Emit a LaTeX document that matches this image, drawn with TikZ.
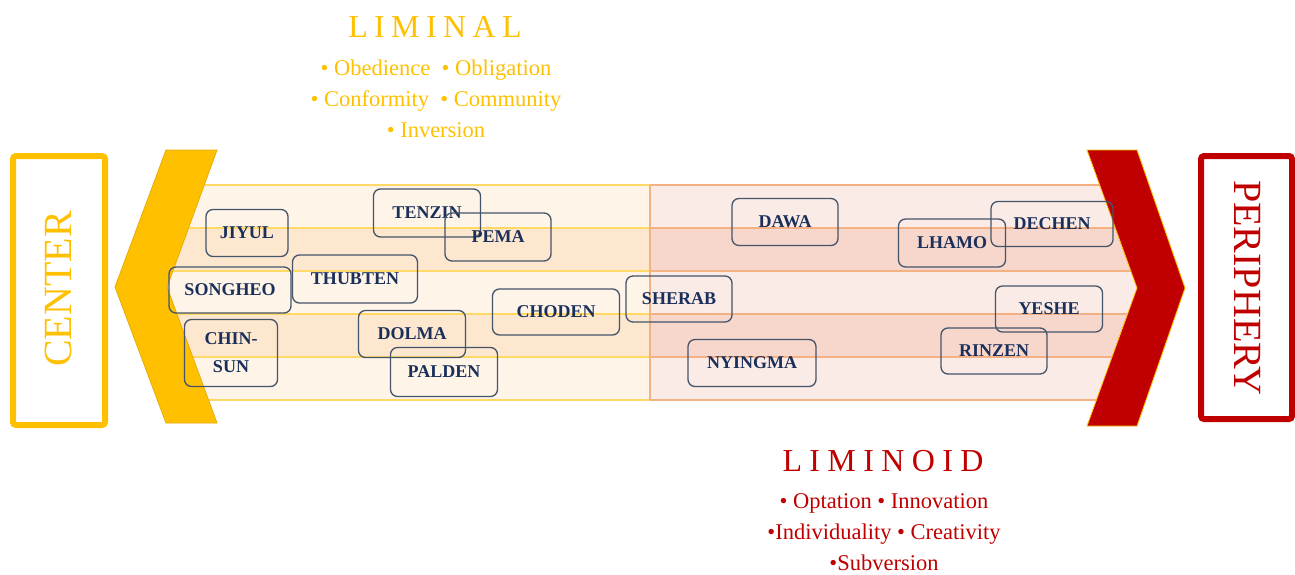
\documentclass[tikz,border=0pt]{standalone}
\usepackage{fontspec}
\setmainfont{Liberation Serif}
\newfontfamily\spacedfont[LetterSpace=20]{Liberation Serif}
\newfontfamily\widefont[LetterSpace=23]{Liberation Serif}
\definecolor{gold}{HTML}{FFC000}
\definecolor{goldedge}{HTML}{E6AC00}
\definecolor{crimson}{HTML}{C00000}
\definecolor{lightA}{HTML}{FEF4E8}
\definecolor{darkA}{HTML}{FDE7CF}
\definecolor{lineA}{HTML}{FFD966}
\definecolor{lightB}{HTML}{FBEBE7}
\definecolor{darkB}{HTML}{F7D6CC}
\definecolor{lineB}{HTML}{F4B183}
\definecolor{boxedge}{HTML}{44546A}
\definecolor{nametext}{HTML}{1A2F5A}
\begin{document}
\begin{tikzpicture}[x=1pt,y=-1pt,
  namebox/.style={draw=boxedge, line width=1.3pt, rounded corners=7pt,
    text=nametext, font=\bfseries\fontsize{18}{28}\selectfont,
    inner sep=0pt, align=center},
  sz/.style 2 args={minimum width=#1pt, minimum height=#2pt},
  heading/.style={font=\spacedfont\fontsize{32}{32}\selectfont},
  traits/.style={font=\fontsize{22.5}{31}\selectfont, align=center},
  pole/.style={font=\fontsize{40}{40}\selectfont, inner sep=0pt},
  stripeA/.style={draw=lineA, line width=1.2pt},
  stripeB/.style={draw=lineB, line width=1.2pt}]
\useasboundingbox (0,0) rectangle (1295,574);

% striped band: liminal half (left) and liminoid half (right)
\foreach \top/\shade in {185/lightA,228/darkA,271/lightA,314/darkA,357/lightA}
  \fill[\shade] (162,\top) rectangle (650,\top+43);
\foreach \top/\shade in {185/lightB,228/darkB,271/lightB,314/darkB,357/lightB}
  \fill[\shade] (650,\top) rectangle (1140,\top+43);
\foreach \y in {185,228,271,314,357,400}{
  \draw[stripeA] (162,\y) -- (650,\y);
  \draw[stripeB] (650,\y) -- (1140,\y);
}
\draw[stripeB] (650,185) -- (650,400);

% chevrons
\draw[fill=gold, draw=goldedge, line width=0.8pt]
  (166,150) -- (217,150) -- (167,287) -- (217,423) -- (166,423) -- (115,287) -- cycle;
\draw[fill=crimson, draw=gold, line width=0.8pt]
  (1087,150) -- (1137,150) -- (1185,288) -- (1137,426) -- (1087,426) -- (1137,288) -- cycle;

% pole boxes
\draw[gold, line width=6pt, rounded corners=3pt] (13,156) rectangle (105,425);
\node[pole, text=gold, rotate=90] (center) at (58,289) {CENTER};
\draw[crimson, line width=6pt, rounded corners=3pt] (1201,156) rectangle (1292,419);
\node[pole, text=crimson, rotate=-90] (periphery) at (1248,288) {PERIPHERY};

% headings and traits
\node[heading, text=gold] (liminal) at (435,27) {LIMINAL};
\node[traits, text=gold] (liminaltraits) at (436,99)
  {• Obedience\ \ • Obligation\\ • Conformity\ \ • Community\\ • Inversion};
\node[heading, font=\widefont\fontsize{32}{32}\selectfont, text=crimson] (liminoid) at (883,461) {LIMINOID};
\node[traits, text=crimson] (liminoidtraits) at (884,532)
  {• Optation\ • Innovation\\ •Individuality • Creativity\\ •Subversion};

% names
\node[namebox, sz={82}{47}]  (jiyul)   at (247,233) {JIYUL};
\node[namebox, sz={107}{48}] (tenzin)  at (427,213) {TENZIN};
\node[namebox, sz={106}{48}] (pema)    at (498,237) {PEMA};
\node[namebox, sz={122}{46}] (songheo) at (230,290) {SONGHEO};
\node[namebox, sz={125}{48}] (thubten) at (355,279) {THUBTEN};
\node[namebox, sz={93}{67}]  (chinsun) at (231,353) {CHIN-\\SUN};
\node[namebox, sz={107}{47}] (dolma)   at (412,334) {DOLMA};
\node[namebox, sz={107}{49}] (palden)  at (444,372) {PALDEN};
\node[namebox, sz={127}{46}] (choden)  at (556,312) {CHODEN};
\node[namebox, sz={106}{46}] (sherab)  at (679,299) {SHERAB};
\node[namebox, sz={106}{47}] (dawa)    at (785,222) {DAWA};
\node[namebox, sz={107}{48}] (lhamo)   at (952,243) {LHAMO};
\node[namebox, sz={122}{45}] (dechen)  at (1052,224) {DECHEN};
\node[namebox, sz={107}{46}] (yeshe)   at (1049,309) {YESHE};
\node[namebox, sz={106}{46}] (rinzen)  at (994,351) {RINZEN};
\node[namebox, sz={128}{47}] (nyingma) at (752,363) {NYINGMA};
\end{tikzpicture}
\end{document}
